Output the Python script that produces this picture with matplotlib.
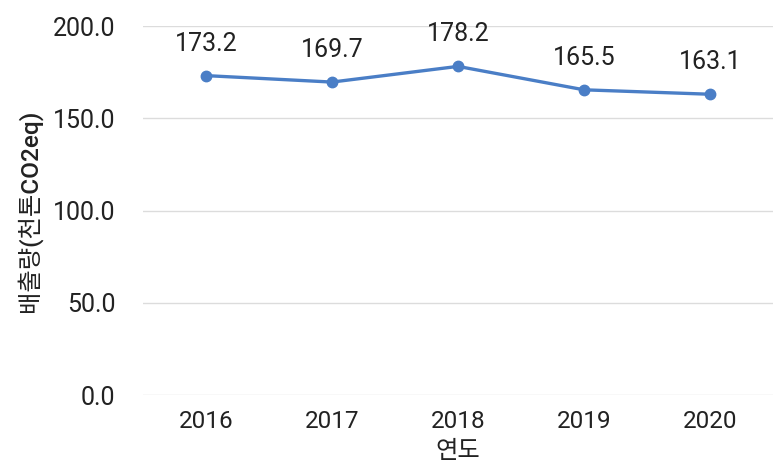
import matplotlib
matplotlib.use('Agg')
import matplotlib.pyplot as plt

# Emission data (thousand ton CO2eq) by year
years = ['2016', '2017', '2018', '2019', '2020']
emissions = [173.2, 169.7, 178.2, 165.5, 163.1]
y_ticks = [0, 50, 100, 150, 200]

# Roboto for digits, Noto CJK for the Korean glyphs
plt.rcParams['font.family'] = ['Roboto', 'Noto Sans CJK KR', 'DejaVu Sans']

fig = plt.figure(figsize=(7.73, 4.76), dpi=100)
ax = fig.add_axes([0.185, 0.170, 0.815, 0.775])

x = list(range(len(years)))
ax.plot(x, emissions, color='#4a7ec6', linewidth=2.4, marker='o', markersize=7.5)

# Data labels above each point
for xi, v in zip(x, emissions):
    ax.annotate(f'{v:.1f}', (xi, v), xytext=(0, 23), textcoords='offset points',
                ha='center', va='center', fontsize=18, color='#222222')

ax.set_xlim(-0.5, len(years) - 0.5)
ax.set_ylim(0, 200)
ax.set_xticks(x)
ax.set_xticklabels(years)
ax.set_yticks(y_ticks)
ax.set_yticklabels([f'{t:.1f}' for t in y_ticks])
ax.tick_params(axis='both', length=0, colors='#222222')
ax.tick_params(axis='y', pad=20, labelsize=18)
ax.tick_params(axis='x', pad=11, labelsize=17.5)

ax.grid(axis='y', color='#dcdcdc', linewidth=1)
ax.set_axisbelow(True)
for s in ax.spines.values():
    s.set_visible(False)

ax.set_ylabel('배출량(천톤CO2eq)', fontsize=17.5, fontweight='medium', color='#222222', labelpad=8)
ax.set_xlabel('연도', fontsize=17.5, fontweight='medium', color='#222222', labelpad=5)

fig.savefig('out.png', dpi=100)
